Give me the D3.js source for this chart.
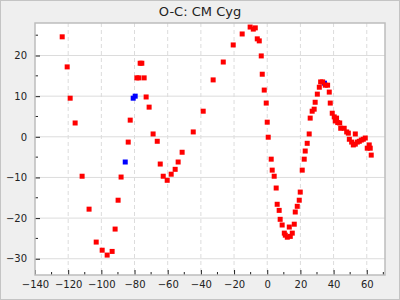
<!DOCTYPE html>
<html>
<head>
<meta charset="utf-8">
<script src="https://cdn.jsdelivr.net/npm/d3@7"></script>
<style>
  body { margin: 0; background: #efefef; }
  text { font-family: "DejaVu Sans", sans-serif; }
</style>
</head>
<body>
<svg id="oc" width="400" height="300"></svg>
<script>
var svg = d3.select("#oc");
const width = +svg.attr("width");
const height = +svg.attr("height");

// plot box edges
const plotLeft = 35, plotRight = 385, plotTop = 23, plotBottom = 275;

// chart values
const title = "O-C: CM Cyg";
const xDomain = [-140, 71];
const yDomain = [-34, 28];
const xMajor = [-140, -120, -100, -80, -60, -40, -20, 0, 20, 40, 60];
const yMajor = [-30, -20, -10, 0, 10, 20];

const redX = [-123.6, -120.6, -118.8, -115.8, -111.6, -107.4, -103.1, -99.5, -96.5, -93.5,
  -91.7, -89.9, -88.1, -83.8, -82.6, -78.6, -77.4, -76.6, -75.6, -74.2,
  -73.0, -71.2, -68.8, -66.3, -64.5, -62.7, -60.3, -57.9, -55.5, -53.7,
  -51.3, -44.6, -38.6, -32.6, -26.5, -20.5, -15.1, -10.3, -8.4, -7.2,
  -6.0, -4.8, -3.6, -3.0, -1.8, -0.6, 0.0, 0.6, 2.4, 3.0,
  4.2, 5.4, 6.0, 7.2, 7.8, 9.0, 10.3, 10.9, 12.1, 13.3,
  13.9, 15.1, 16.3, 16.9, 18.1, 19.3, 19.9, 21.1, 22.3, 22.9,
  24.1, 25.3, 25.9, 27.1, 28.3, 28.9, 30.2, 31.4, 32.2, 33.4,
  35.0, 36.4, 37.4, 38.0, 39.2, 40.4, 41.8, 41.0, 42.5, 43.7,
  44.3, 46.4, 47.9, 48.9, 49.5, 50.9, 51.9, 53.1, 53.1, 54.3,
  55.5, 56.7, 57.9, 59.1, 60.3, 61.5, 62.1, 62.7];
const redY = [24.6, 17.2, 9.5, 3.4, -9.7, -17.8, -25.9, -27.9, -29.1, -28.2,
  -22.7, -15.6, -9.9, -1.3, 4.1, 14.5, 14.5, 18.1, 18.1, 14.5,
  9.8, 7.3, 0.7, -1.1, -6.7, -9.7, -10.7, -9.2, -8.0, -6.2,
  -3.8, 1.2, 6.3, 14.0, 18.4, 22.6, 25.3, 27.0, 26.5, 26.8,
  24.1, 23.6, 19.9, 15.4, 11.5, 8.3, 3.6, -0.1, -5.5, -8.2,
  -9.7, -12.6, -16.6, -18.1, -20.3, -21.7, -23.7, -24.2, -24.7, -22.2,
  -24.5, -23.7, -21.5, -18.5, -17.1, -15.6, -13.6, -8.2, -5.5, -3.5,
  -1.6, 0.7, 4.6, 6.3, 6.8, 8.5, 10.5, 12.2, 13.5, 13.5,
  12.7, 12.7, 11.0, 8.3, 5.8, 4.9, 4.6, 3.9, 3.5, 3.4,
  2.1, 2.1, 1.2, 0.9, -0.6, -1.3, -2.0, -1.8, 0.7, -1.3,
  -1.1, -0.8, -0.6, -0.3, -2.8, -2.0, -2.8, -4.5];
const blueX = [-85.6, -80.8, -79.6, 34.5];
const blueY = [-6.2, 9.5, 10.0, 13.2];

const x = d3.scaleLinear().domain(xDomain).range([plotLeft, plotRight]);
const y = d3.scaleLinear().domain(yDomain).range([plotBottom, plotTop]);

// outer frame
svg.append("rect")
    .attr("x", 0.5).attr("y", 0.5)
    .attr("width", width - 1).attr("height", height - 1)
    .attr("fill", "#efefef")
    .attr("stroke", "#c4c4c4");

// white plot area
svg.append("rect")
    .attr("x", plotLeft).attr("y", plotTop)
    .attr("width", plotRight - plotLeft).attr("height", plotBottom - plotTop)
    .attr("fill", "#fff");

//grid: solid horizontal, dashed vertical
svg.append("g").selectAll("line")
    .data(yMajor)
    .join("line")
    .attr("x1", plotLeft).attr("x2", plotRight)
    .attr("y1", d => y(d)).attr("y2", d => y(d))
    .attr("stroke", "#dcdcdc")
    .attr("stroke-width", 1);

svg.append("g").selectAll("line")
    .data(xMajor.filter(d => d > xDomain[0]))
    .join("line")
    .attr("x1", d => x(d)).attr("x2", d => x(d))
    .attr("y1", plotTop).attr("y2", plotBottom)
    .attr("stroke", "#dcdcdc")
    .attr("stroke-width", 1)
    .attr("stroke-dasharray", "4,3");

// minor ticks (inward)
const xMinor = d3.range(-130, 71, 20);
const yMinor = d3.range(-25, 28, 10);
svg.append("g").selectAll("line")
    .data(xMinor)
    .join("line")
    .attr("x1", d => x(d)).attr("x2", d => x(d))
    .attr("y1", plotBottom).attr("y2", plotBottom - 3)
    .attr("stroke", "#222");
svg.append("g").selectAll("line")
    .data(yMinor)
    .join("line")
    .attr("x1", plotLeft).attr("x2", plotLeft + 3)
    .attr("y1", d => y(d)).attr("y2", d => y(d))
    .attr("stroke", "#222");

// axes with inward major ticks
var bottomAxis = d3.axisBottom(x).tickValues(xMajor).tickSize(-5).tickPadding(6).tickSizeOuter(0);
var gx = svg.append("g")
    .attr("transform", "translate(0," + plotBottom + ")")
    .call(bottomAxis);
var leftAxis = d3.axisLeft(y).tickValues(yMajor).tickSize(-5).tickPadding(8).tickSizeOuter(0);
var gy = svg.append("g")
    .attr("transform", "translate(" + plotLeft + ",0)")
    .call(leftAxis);
[gx, gy].forEach(g => {
    g.select(".domain").remove();
    g.selectAll(".tick line").attr("stroke", "#222");
    g.selectAll("text")
        .attr("fill", "#222")
        .style("font-size", "10px")
        .style("font-family", "'DejaVu Sans', sans-serif");
});

// points: blue first, red on top
const size = 5;
svg.append("g").selectAll("rect")
    .data(blueX.map((v, i) => [v, blueY[i]]))
    .join("rect")
    .attr("x", d => x(d[0]) - size / 2)
    .attr("y", d => y(d[1]) - size / 2)
    .attr("width", size).attr("height", size)
    .attr("fill", "#0000ff");

svg.append("g").selectAll("rect")
    .data(redX.map((v, i) => [v, redY[i]]))
    .join("rect")
    .attr("x", d => x(d[0]) - size / 2)
    .attr("y", d => y(d[1]) - size / 2)
    .attr("width", size).attr("height", size)
    .attr("fill", "#ff0000");

// plot border
svg.append("rect")
    .attr("x", plotLeft).attr("y", plotTop)
    .attr("width", plotRight - plotLeft).attr("height", plotBottom - plotTop)
    .attr("fill", "none")
    .attr("stroke", "#bdbdbd")
    .attr("stroke-width", 1.5);

// title
svg.append("text")
    .attr("x", width / 2)
    .attr("y", 16)
    .attr("text-anchor", "middle")
    .style("font-size", "13px")
    .attr("fill", "#222")
    .text(title);
</script>
</body>
</html>
